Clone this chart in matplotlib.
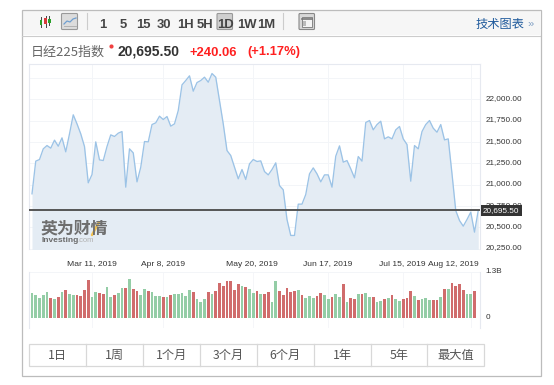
import matplotlib
matplotlib.use("Agg")
import matplotlib.pyplot as plt
from matplotlib.patches import Rectangle, FancyBboxPatch
from matplotlib.transforms import ScaledTranslation

W, H = 554, 385
CJK = ["Noto Sans CJK SC", "Liberation Sans", "DejaVu Sans"]
SANS = ["Liberation Sans", "DejaVu Sans"]

price = [
    20891, 21274, 21293, 21418, 21457, 21426, 21520, 21449, 21547, 21383,
    21594, 21817, 21711, 21594, 21445, 21020, 21117, 21500, 21289, 21281,
    21445, 21582, 21563, 21602, 21621, 20969, 21418, 21371, 21031, 21203,
    21504, 21500, 21703, 21723, 21801, 21762, 21797, 21684, 21711, 21867,
    22168, 22219, 22274, 22094, 22195, 22219, 22258, 22199, 22301, 22258,
    21984, 21711, 21398, 21340, 21203, 21067, 21176, 21059, 21242,
    21293, 21270, 21277, 21152, 21113, 21176, 21254, 20988, 20938, 20590,
    20403, 20403, 20770, 20770, 20883, 21125, 21195, 21125, 21031, 21113,
    21113, 20969, 21332, 21453, 21262, 21281, 21184, 21078, 21328, 21274,
    21727, 21750, 21641, 21703, 21742, 21535, 21559, 21535, 21641, 21680,
    21535, 21469, 21039, 21457, 21418, 21621, 21703, 21750, 21660, 21613,
    21703, 21523, 21535, 21125, 20695, 20578, 20512, 20590, 20676, 20442,
    20695,
]
volume_m = [
    707, 669, 575, 659, 735, 575, 556, 603, 744, 791,
    678, 659, 659, 631, 801, 1083, 603, 744, 707, 688,
    895, 603, 659, 716, 857, 857, 1112, 829, 763, 669,
    829, 772, 744, 631, 631, 603, 603, 659, 678, 678,
    716, 631, 801, 744, 546, 462, 556, 744, 688, 782,
    999, 914, 1055, 1055, 801, 970, 914, 895, 829, 716,
    763, 688, 688, 744,
    462, 1055, 763, 659, 857, 744, 763, 791, 659, 575,
    631, 565, 631, 716, 659, 546, 603, 688, 603, 970,
    462, 575, 556, 678, 678, 716, 603, 603, 462, 490,
    556, 575, 659, 546, 490, 546, 575, 772, 631, 518,
    546, 565, 518, 518, 518, 603, 829, 829, 999, 914,
    970, 801, 688, 688, 772,
]
# read bar by bar, left to right (g = green bar, r = red bar)
volume_dir = (
    "g g g g g r g r g r "
    "g g r r r r g g r r "
    "g g r g g r g r r g "
    "g r g g g r g r g g "
    "g g g r g g g r g r "
    "r r r r r r g r g g "
    "r g r r "
    "g g r r r r r g r g "
    "g g r r g g r g g r "
    "g r r g r g g r g g "
    "r g r g g r r r g r "
    "g g g r r g r g r r "
    "r r g g r"
).split()

date_labels = ["Mar 11, 2019", "Apr 8, 2019", "May 20, 2019",
               "Jun 17, 2019", "Jul 15, 2019", "Aug 12, 2019"]
price_ticks = [22000, 21750, 21500, 21250, 21000, 20750, 20500, 20250]
price_tick_labels = ["22,000.00", "21,750.00", "21,500.00", "21,250.00",
                     "21,000.00", "20,750.00", "20,500.00", "20,250.00"]
last_price = 20695.50
ranges = ["1日", "1周", "1个月", "3个月", "6个月", "1年", "5年", "最大值"]
intervals = ["1", "5", "15", "30", "1H", "5H", "1D", "1W", "1M"]
interval_x = [103, 123.5, 143.5, 164, 185, 205, 225, 246.5, 266.5]

fig = plt.figure(figsize=(W / 100, H / 100), dpi=100, facecolor="white")


def box(l, t, r, b):
    return [l / W, 1 - b / H, (r - l) / W, (b - t) / H]


# full-figure chrome layer in pixel coordinates
ui = fig.add_axes([0, 0, 1, 1], zorder=2)
ui.set_xlim(0, W)
ui.set_ylim(H, 0)
ui.axis("off")

ui.add_patch(Rectangle((22, 10), 518, 25, fc="#f6f6f6", ec="none"))
ui.add_patch(Rectangle((21.5, 9.5), 519, 366, fc="none", ec="#bcbcbc", lw=0.9))
ui.plot([22, 540], [35.5, 35.5], color="#cccccc", lw=0.8)

# candlestick icon
for x, lo, hi, top, bot, c in [(41, 17, 27, 19.5, 24.5, "#2aa02a"),
                                (45.5, 16, 26.5, 18, 24, "#d83a3a"),
                                (49.3, 16, 25, 18.5, 22.5, "#2aa02a")]:
    ui.plot([x, x], [lo, hi], color="#444444", lw=0.7)
    ui.add_patch(Rectangle((x - 1.3, top), 2.6, bot - top, fc=c, ec="none", zorder=3))

# line button
ui.add_patch(FancyBboxPatch((61.5, 13.5), 16, 16, boxstyle="round,pad=0,rounding_size=1",
                            fc="#dcdcdc", ec="#999999", lw=0.8))
ui.plot([64, 67, 70, 73, 76], [24, 21, 22, 19, 18], color="#6f9fd0", lw=0.9)
ui.plot([64, 76], [26, 26], color="#aaaaaa", lw=0.6)
ui.plot([86.5, 86.5], [13, 29], color="#cccccc", lw=0.8)
ui.plot([282.5, 282.5], [13, 29], color="#cccccc", lw=0.8)

# active 1D button
ui.add_patch(FancyBboxPatch((217, 13.5), 15.5, 16, boxstyle="round,pad=0,rounding_size=1",
                            fc="#cfcfcf", ec="#999999", lw=0.8))
for s, x in zip(intervals, interval_x):
    ui.text(x, 25, s, ha="center", va="center", fontsize=9.4, fontweight="bold",
            color="#444444", family=SANS)

# layout icon
ui.add_patch(FancyBboxPatch((299, 13.5), 15.5, 16, boxstyle="round,pad=0,rounding_size=1",
                            fc="#d8d8d8", ec="#888888", lw=0.8))
ui.add_patch(Rectangle((301.5, 16.5), 10, 10, fc="#f4f4f4", ec="#777777", lw=0.6))
ui.plot([301.5, 311.5], [19, 19], color="#777777", lw=1.2)
ui.add_patch(Rectangle((302.5, 20.5), 3.5, 5, fc="#bbbbbb", ec="none"))

ui.text(500.5, 24.5, "技术图表", ha="center", va="center", fontsize=8.8,
        color="#1f5a9c", family=CJK)
ui.text(531, 24, "»", ha="center", va="center", fontsize=8, color="#7f9fc4", family=SANS)

# header
ui.text(31, 52, "日经225指数", ha="left", va="center", fontsize=9.4,
        color="#666666", family=CJK)
ui.plot([111], [46], marker="o", ms=3.0, color="#f04040", mew=0)
ui.text(118, 52, "20,695.50", ha="left", va="center", fontsize=10, fontweight="bold",
        color="#333333", family=SANS)
ui.text(190, 52.5, "+240.06", ha="left", va="center", fontsize=9.4, fontweight="bold",
        color="#ff2020", family=SANS)
ui.text(247, 52.5, "(+1.17%)", ha="left", va="center", fontsize=9.4, fontweight="bold",
        color="#ff2020", family=SANS)

# range buttons
ui.add_patch(Rectangle((29.3, 344.3), 455, 22, fc="white", ec="#d8d8d8", lw=0.9))
btn_w = 455 / len(ranges)
for i, s in enumerate(ranges):
    if i:
        ui.plot([29.3 + i * btn_w] * 2, [344.3, 366.3], color="#d8d8d8", lw=0.9)
    ui.text(29.3 + (i + 0.5) * btn_w, 355.5, s, ha="center", va="center", fontsize=8.8,
            color="#555555", family=CJK)

# price panel
n_price = len(price)
x0, dx = 32.0, 3.75
L, R = 29.3, 480.3
xmin = (L - x0) / dx
xmax = (R - x0) / dx
PX_PER_UNIT = 21.33 / 250
Y_TOP_PX, Y_BOT_PX = 64.0, 249.5
Y_22000 = 99.2
ymax = 22000 + (Y_22000 - Y_TOP_PX) / PX_PER_UNIT
ymin = 22000 - (Y_BOT_PX - Y_22000) / PX_PER_UNIT
label_up = ScaledTranslation(0, 1.5 / 100, fig.dpi_scale_trans)

ax = fig.add_axes(box(L, Y_TOP_PX, R, Y_BOT_PX), zorder=1)
ax.patch.set_alpha(0)
ax.set_xlim(xmin, xmax)
ax.set_ylim(ymin, ymax)
xs = list(range(n_price))
grid_x = [16, 35, 59, 79, 99, 117]
for g in grid_x:
    ax.axvline(g, color="#f3f5f8", lw=0.7, zorder=0)
for t in price_ticks + [22250]:
    ax.axhline(t, color="#f3f5f8", lw=0.7, zorder=0)
ax.fill_between(xs, price, ymin, color="#e4ecf4", lw=0, zorder=1)
ax.plot(xs, price, color="#9cc3e6", lw=0.95, zorder=2)
ax.axhline(last_price, color="#555555", lw=1.4, zorder=4)
ax.set_xticks([])
ax.yaxis.tick_right()
ax.set_yticks(price_ticks, price_tick_labels)
ax.tick_params(axis="y", length=0, pad=3.6, labelsize=5.9, labelcolor="#333333")
for lab in ax.get_yticklabels():
    lab.set_family(SANS)
    lab.set_transform(lab.get_transform() + label_up)
for side, sp in ax.spines.items():
    sp.set_color("#e6e9f0")
    sp.set_linewidth(0.8)
ax.spines["bottom"].set_visible(False)

# last price tag
ax.annotate("20,695.50", xy=(1, last_price), xycoords=("axes fraction", "data"),
            xytext=(2.0, 0), textcoords="offset points", ha="left", va="center",
            fontsize=5.9, color="white", family=SANS, annotation_clip=False, zorder=6,
            bbox=dict(boxstyle="square,pad=0.3", fc="#333333", ec="none"))

# watermark
ui.text(41, 228, "英为财情", ha="left", va="center", fontsize=12.2, fontweight="bold",
        color="#6e6e6e", family=CJK)
ui.plot([92, 99], [235, 222], color="#f2c14e", lw=1.8, solid_capstyle="round")
ui.text(41, 240.3, "Investing", ha="left", va="center", fontsize=6.0, fontweight="bold",
        color="#6a6a6a", family=SANS)
ui.text(77.5, 240.6, ".com", ha="left", va="center", fontsize=5.4, color="#b0b0b0", family=SANS)

# date labels
date_px = [92, 163, 252, 328, 402, 453.5]
for s, x in zip(date_labels, date_px):
    ui.text(x, 264, s, ha="center", va="center", fontsize=6.1, color="#333333", family=SANS)

# volume panel
V_TOP, V_BOT = 272.0, 328.0
V_BASE = 318.3
vpx = 0.03539
ax2 = fig.add_axes(box(L, V_TOP, R, V_BOT), zorder=1)
ax2.patch.set_alpha(0)
ax2.set_xlim(xmin, xmax)
ax2.set_ylim(-(V_BOT - V_BASE) / vpx, (V_BASE - V_TOP) / vpx)
colors = ["#94cda6" if d == "g" else "#d06c6c" for d in volume_dir]
ax2.bar(range(len(volume_m)), volume_m, width=0.68, color=colors, lw=0, zorder=2)
for g in grid_x:
    ax2.axvline(g, color="#f5f6f9", lw=0.7, zorder=0)
ax2.axhline(1300, color="#f3f5f8", lw=0.7, zorder=0)
ax2.set_xticks([])
ax2.yaxis.tick_right()
ax2.set_yticks([0, 1300], ["0", "1.3B"])
ax2.tick_params(axis="y", length=0, pad=3.6, labelsize=5.9, labelcolor="#333333")
for lab in ax2.get_yticklabels():
    lab.set_family(SANS)
    lab.set_transform(lab.get_transform() + label_up)
for side, sp in ax2.spines.items():
    sp.set_visible(side in ("left", "right"))
    sp.set_color("#e6e9f0")
    sp.set_linewidth(0.8)

fig.savefig("out.png", dpi=100, facecolor="white")
